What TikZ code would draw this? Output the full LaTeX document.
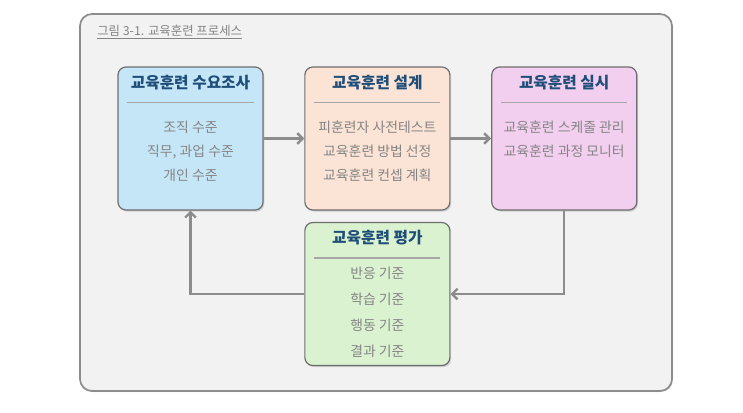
\documentclass[tikz,border=0pt]{standalone}
\usepackage{fontspec}
\setmainfont{Noto Sans CJK KR}
\usetikzlibrary{arrows.meta, positioning, shadows}
\definecolor{grisFondo}{HTML}{F2F2F2}
\definecolor{grisMarco}{HTML}{8C8C8C}
\definecolor{grisBorde}{HTML}{6E6E6E}
\definecolor{grisTexto}{HTML}{858585}
\definecolor{grisLinea}{HTML}{A6A6A6}
\definecolor{azulTitulo}{HTML}{1F4E79}
\definecolor{azulClaro}{HTML}{C5E6F7}
\definecolor{durazno}{HTML}{FBE3D6}
\definecolor{rosa}{HTML}{F2CEEF}
\definecolor{verdeClaro}{HTML}{DAF2D0}
\colorlet{colFlecha}{grisMarco}
\tikzset{
  marco/.style={
    draw=grisMarco, line width=1.3pt, rounded corners=9pt, fill=grisFondo,
    drop shadow={shadow xshift=0.8pt, shadow yshift=-0.8pt, opacity=0.25}
  },
  cajaBase/.style={
    draw=grisBorde, line width=0.9pt, rounded corners=6pt,
    minimum width=108.75pt, minimum height=107.25pt,
    drop shadow={shadow xshift=1pt, shadow yshift=-1.2pt, opacity=0.3}
  },
  cajaDiagnostico/.style={cajaBase, fill=azulClaro},
  cajaDiseno/.style={cajaBase, fill=durazno},
  cajaEjecucion/.style={cajaBase, fill=rosa},
  cajaEvaluacion/.style={cajaBase, fill=verdeClaro},
  tituloCaja/.style={font=\fontsize{11.8}{14}\selectfont\bfseries, text=azulTitulo, inner sep=0pt},
  itemsCaja/.style={font=\fontsize{10.4}{18}\selectfont, text=grisTexto, align=center,
    inner sep=0pt, anchor=north},
  separador/.style={draw=grisLinea, line width=1pt},
  flecha/.style={-{Straight Barb[length=4pt, width=8pt]}, line width=1.8pt, colFlecha},
  pie/.style={font=\fontsize{9.3}{11}\selectfont, text=grisTexto, anchor=west, inner sep=0pt},
}

\begin{document}
\begin{tikzpicture}[x=0.75pt, y=-0.75pt]
    \useasboundingbox (0,0) rectangle (743,413);
    \path[marco] (80,14) rectangle (672,391);
    \node[pie] (pie) at (97,32) {\underline{그림 3-1. 교육훈련 프로세스}};

    % cajas del proceso
    \node[cajaDiagnostico] (caja1) at (190.5,138.5) {};
    \node[cajaDiseno, right=30.5pt of caja1] (caja2) {};
    \node[cajaEjecucion, right=30.5pt of caja2] (caja3) {};
    \node[cajaEvaluacion, below=8.5pt of caja2] (caja4) {};

    % titulos y separadores
    \foreach \c/\t in {caja1/교육훈련 수요조사, caja2/교육훈련 설계, caja3/교육훈련 실시, caja4/교육훈련 평가}{
      \node[tituloCaja] (tit-\c) at ([yshift=-12pt]\c.north) {\t};
      \draw[separador] ([xshift=7.5pt, yshift=-27pt]\c.north west) -- ([xshift=-7.5pt, yshift=-27pt]\c.north east);
    }

    \node[itemsCaja] (lst1) at ([yshift=-41pt]caja1.north) {조직 수준\\직무, 과업 수준\\개인 수준};
    \node[itemsCaja] (lst2) at ([yshift=-41pt]caja2.north) {피훈련자 사전테스트\\교육훈련 방법 선정\\교육훈련 컨셉 계획};
    \node[itemsCaja] (lst3) at ([yshift=-41pt]caja3.north) {교육훈련 스케줄 관리\\교육훈련 과정 모니터};
    \node[itemsCaja, font=\fontsize{10.4}{19.5}\selectfont] (lst4) at ([yshift=-33.5pt]caja4.north) {반응 기준\\학습 기준\\행동 기준\\결과 기준};

    % flechas
    \draw[flecha] (caja1) -- (caja2);
    \draw[flecha] (caja2) -- (caja3);
    \draw[flecha] (caja3.south) |- (caja4.east);
    \draw[flecha] (caja4.west) -| (caja1.south);
  \end{tikzpicture}
\end{document}
